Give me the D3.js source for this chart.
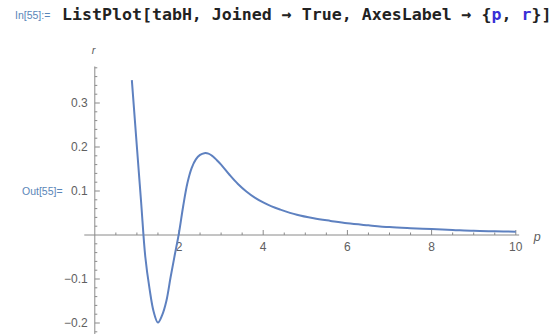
<!DOCTYPE html>
<html>
<head>
<meta charset="utf-8">
<script src="https://cdn.jsdelivr.net/npm/d3@7"></script>
<style>
  body { margin: 0; background: #fff; }
  svg { display: block; }
</style>
</head>
<body>
<div id="chart"></div>
<script>
// data (p, r)
let pValues = [0.88, 1.0, 1.1, 1.2, 1.3, 1.4, 1.5, 1.6, 1.7, 1.8, 1.9, 2.0, 2.1, 2.2, 2.3, 2.4, 2.5, 2.6, 2.7, 2.8, 2.9, 3.0,
               3.2, 3.4, 3.6, 3.8, 4.0, 4.2, 4.4, 4.8, 5.2, 5.6, 6.0, 6.5, 7.0, 7.5, 8.0, 8.5, 9.0, 9.5, 10.0];
let rValues = [0.352, 0.20, 0.075, -0.05, -0.122, -0.175, -0.199, -0.182, -0.15, -0.096, -0.045, 0.005, 0.066, 0.118, 0.152, 0.172, 0.182, 0.186, 0.185, 0.179, 0.170, 0.160,
               0.137, 0.116, 0.099, 0.085, 0.074, 0.065, 0.058, 0.046, 0.038, 0.032, 0.0265, 0.022, 0.018, 0.0155, 0.0135, 0.0115, 0.0095, 0.0085, 0.0076];
let xTicks = [2, 4, 6, 8, 10];
let yTicks = [-0.2, -0.1, 0.1, 0.2, 0.3];

let W = 558, H = 334;
let svg = d3.select("#chart").append("svg").attr("width", W).attr("height", H);

// input cell line
svg.append("text").attr("x", 15).attr("y", 19)
   .attr("font-family", "Liberation Sans, Arial, sans-serif").attr("font-size", 10.5)
   .attr("fill", "#5a86b8").text("In[55]:=");

let code = svg.append("text").attr("x", 62).attr("y", 20)
   .attr("font-family", "DejaVu Sans Mono, monospace").attr("font-size", 16.6)
   .attr("font-weight", "bold").attr("fill", "#222");
code.append("tspan").text("ListPlot[tabH, Joined \u2192 True, AxesLabel \u2192 {");
code.append("tspan").attr("fill", "#3a2fd6").text("p");
code.append("tspan").text(", ");
code.append("tspan").attr("fill", "#3a2fd6").text("r");
code.append("tspan").text("}]");

svg.append("text").attr("x", 22).attr("y", 195)
   .attr("font-family", "Liberation Sans, Arial, sans-serif").attr("font-size", 10.5)
   .attr("fill", "#5a86b8").text("Out[55]=");

// scales
let x = d3.scaleLinear().domain([0, 10]).range([94.8, 515.8]);
let y = d3.scaleLinear().domain([0, 0.3]).range([235, 103]);

let axisColor = "#8a8a8a";
let labelColor = "#606060";
let g = svg.append("g");

// x axis line
g.append("line").attr("x1", x(-0.25)).attr("x2", x(10.08))
 .attr("y1", y(0)).attr("y2", y(0)).attr("stroke", axisColor).attr("stroke-width", 1);
// y axis line
g.append("line").attr("x1", x(0)).attr("x2", x(0))
 .attr("y1", y(0.383)).attr("y2", H).attr("stroke", axisColor).attr("stroke-width", 1);

// x ticks (pointing up)
let xMinor = d3.range(0.5, 10.01, 0.5).filter(v => xTicks.indexOf(+v.toFixed(1)) < 0);
g.selectAll(".xminor").data(xMinor).enter().append("line")
 .attr("x1", d => x(d)).attr("x2", d => x(d))
 .attr("y1", y(0)).attr("y2", y(0) - 2.5).attr("stroke", axisColor);
g.selectAll(".xmajor").data(xTicks).enter().append("line")
 .attr("x1", d => x(d)).attr("x2", d => x(d))
 .attr("y1", y(0)).attr("y2", y(0) - 5).attr("stroke", axisColor);
g.selectAll(".xlab").data(xTicks).enter().append("text")
 .attr("x", d => x(d)).attr("y", y(0) + 16).attr("text-anchor", "middle")
 .attr("font-family", "Liberation Sans, Arial, sans-serif").attr("font-size", 12)
 .attr("fill", labelColor).text(d => d);

// y ticks (pointing right)
let yMinor = d3.range(-22, 39, 2).map(v => v / 100).filter(v => Math.abs(v * 10 - Math.round(v * 10)) > 1e-6);
g.selectAll(".yminor").data(yMinor).enter().append("line")
 .attr("x1", x(0)).attr("x2", x(0) + 2.5)
 .attr("y1", d => y(d)).attr("y2", d => y(d)).attr("stroke", axisColor);
g.selectAll(".ymajor").data(yTicks).enter().append("line")
 .attr("x1", x(0)).attr("x2", x(0) + 5)
 .attr("y1", d => y(d)).attr("y2", d => y(d)).attr("stroke", axisColor);
g.selectAll(".ylab").data(yTicks).enter().append("text")
 .attr("x", x(0) - 7).attr("y", d => y(d) + 4).attr("text-anchor", "end")
 .attr("font-family", "Liberation Sans, Arial, sans-serif").attr("font-size", 12)
 .attr("fill", labelColor).text(d => d3.format(".1f")(d).replace("-", "\u2212"));

// axes labels
g.append("text").attr("x", x(10) + 18).attr("y", y(0) + 6)
 .attr("font-family", "Liberation Sans, Arial, sans-serif").attr("font-style", "italic")
 .attr("font-size", 12.5).attr("fill", labelColor).text("p");
g.append("text").attr("x", x(0) - 3).attr("y", y(0.383) - 12)
 .attr("font-family", "Liberation Sans, Arial, sans-serif").attr("font-style", "italic")
 .attr("font-size", 11).attr("fill", labelColor).text("r");

// curve
let pts = pValues.map((p, i) => [p, rValues[i]]);
let line = d3.line().x(d => x(d[0])).y(d => y(d[1])).curve(d3.curveCatmullRom.alpha(0.5));
g.append("path").datum(pts).attr("d", line)
 .attr("fill", "none").attr("stroke", "#5e81c0").attr("stroke-width", 2)
 .attr("stroke-linejoin", "round");
</script>
</body>
</html>
